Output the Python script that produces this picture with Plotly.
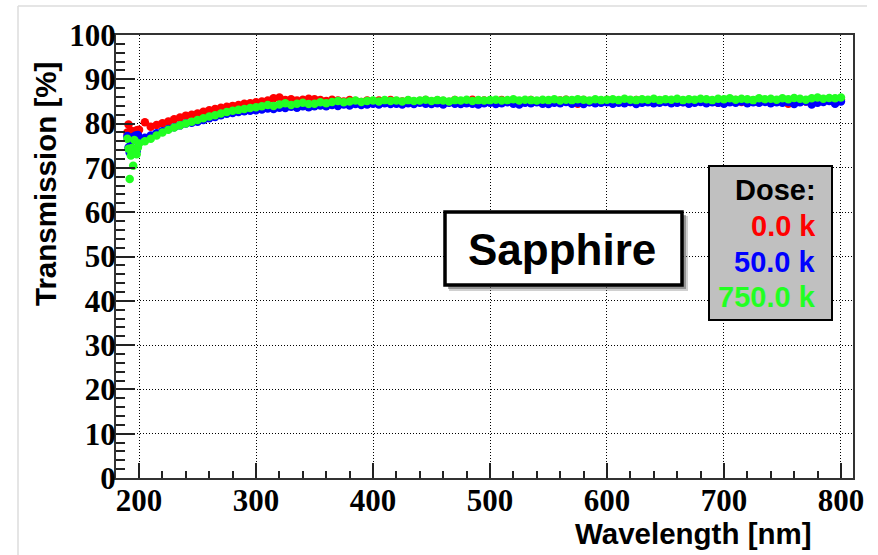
import plotly.graph_objects as go

# ---------------- data ----------------
wl_uv = [190, 191, 192, 193, 194, 195, 196, 197, 198, 199]
red_uv = [78.0, 79.8, 77.8, 78.4, 77.6, 78.2, 77.7, 78.0, 78.5, 78.2]
blue_uv = [77.2, 74.6, 73.5, 75.8, 76.5, 77.0, 76.4, 77.3, 73.8, 77.4]
green_uv = [76.6, 74.3, 67.5, 72.8, 74.5, 70.5, 76.3, 73.8, 73.1, 74.6]

wl_main = list(range(200, 805, 5))
red_main = [
    78.6, 80.3, 79.3, 79.7, 80.1, 80.5, 81.0, 81.4, 81.8, 82.0,
    82.3, 82.7, 83.0, 83.3, 83.6, 83.8, 84.0, 84.2, 84.5, 84.6,
    84.8, 85.0, 85.2, 85.7, 85.9, 85.3, 85.5, 85.2, 85.4, 85.6,
    85.5, 85.3, 85.1, 85.4, 85.2, 85.0, 85.3, 85.1, 84.9, 85.2,
    85.0, 85.2, 84.9, 85.3, 85.1, 85.0, 85.2, 84.6, 85.1, 85.3,
    85.0, 85.2, 85.1, 84.9, 85.3, 85.0, 85.1, 85.4, 85.0, 85.2,
    84.9, 85.1, 85.3, 85.0, 85.2, 84.6, 85.1, 85.3, 85.0, 85.2,
    85.1, 84.9, 85.2, 85.4, 85.0, 84.5, 85.3, 84.9, 85.2, 85.0,
    85.3, 85.1, 85.0, 85.2, 84.9, 85.3, 85.1, 85.0, 85.4, 85.2,
    85.0, 85.1, 85.3, 84.9, 85.2, 85.0, 85.1, 85.3, 85.0, 84.7,
    85.2, 85.1, 85.3, 84.9, 85.0, 85.2, 85.4, 85.1, 84.8, 85.0,
    85.3, 84.5, 85.1, 85.4, 85.0, 85.2, 84.9, 85.3, 85.5, 85.2,
    85.4,
]
blue_main = [
    76.5, 76.8, 77.3, 77.8, 78.3, 78.8, 79.2, 79.6, 80.0, 80.2,
    80.4, 80.8, 81.2, 81.5, 81.9, 82.2, 82.4, 82.6, 82.8, 82.9,
    83.0, 83.2, 83.4, 83.3, 83.6, 83.5, 83.8, 83.6, 83.9, 83.7,
    83.9, 84.1, 83.9, 84.2, 84.0, 84.3, 84.1, 84.4, 84.2, 84.3,
    84.5, 84.3, 84.6, 84.4, 84.5, 84.3, 84.6, 84.4, 84.7, 84.5,
    84.4, 84.6, 84.3, 84.7, 84.5, 84.4, 84.6, 84.5, 84.3, 84.6,
    84.7, 84.4, 84.6, 84.8, 84.5, 84.3, 84.7, 84.6, 84.8, 84.5,
    84.4, 84.7, 84.6, 84.9, 84.5, 84.7, 84.4, 84.8, 84.6, 84.7,
    84.8, 84.5, 84.7, 84.6, 84.9, 84.4, 84.7, 84.8, 84.6, 84.7,
    84.9, 84.6, 84.7, 84.8, 84.5, 84.7, 84.9, 84.6, 84.8, 84.7,
    84.5, 84.8, 84.7, 85.0, 84.6, 84.8, 84.7, 84.9, 84.6, 84.8,
    84.7, 84.9, 84.4, 84.8, 85.0, 84.3, 84.7, 84.9, 85.1, 84.5,
    85.0,
]
green_main = [
    75.5, 76.0, 76.6, 77.3, 78.0, 78.6, 79.1, 79.6, 80.0, 80.4,
    80.8, 81.2, 81.6, 81.9, 82.3, 82.6, 82.9, 83.1, 83.3, 83.5,
    83.7, 83.9, 84.2, 84.0, 84.3, 84.6, 84.2, 84.5, 84.7, 84.4,
    84.5, 84.8, 84.6, 84.9, 85.1, 84.8, 85.0, 85.2, 84.9, 85.1,
    85.2, 85.0, 85.3, 85.1, 85.2, 85.0, 85.3, 85.1, 85.2, 85.4,
    85.1, 85.3, 85.2, 85.0, 85.3, 85.2, 85.4, 85.1, 85.3, 85.2,
    85.3, 85.4, 85.2, 85.3, 85.5, 85.2, 85.4, 85.3, 85.2, 85.4,
    85.3, 85.5, 85.2, 85.4, 85.3, 85.5, 85.4, 85.2, 85.5, 85.3,
    85.4, 85.5, 85.3, 85.6, 85.4, 85.3, 85.5, 85.4, 85.6, 85.3,
    85.5, 85.4, 85.6, 85.3, 85.5, 85.4, 85.6, 85.5, 85.3, 85.6,
    85.5, 85.7, 85.4, 85.6, 85.5, 85.3, 85.7, 85.5, 85.6, 85.4,
    85.7, 85.5, 85.8, 85.6, 85.4, 85.7, 85.9, 85.6, 85.8, 85.7,
    85.9,
]

series_names = ["0.0 k", "50.0 k", "750.0 k"]
series_colors = ["#ff0000", "#0000ff", "#22ff22"]
x_ticks = [200, 300, 400, 500, 600, 700, 800]
y_ticks = [0, 10, 20, 30, 40, 50, 60, 70, 80, 90, 100]

# ---------------- figure ----------------
W, H = 878, 555
L, R, T, B = 116, 25, 35, 77
PW, PH = W - L - R, H - T - B


def px(xp):
    return (xp - L) / PW


def py(yp):
    return (H - B - yp) / PH


fig = go.Figure()
all_series = [
    (wl_uv + wl_main, red_uv + red_main),
    (wl_uv + wl_main, blue_uv + blue_main),
    (wl_uv + wl_main, green_uv + green_main),
]
for (xs, ys), name, col in zip(all_series, series_names, series_colors):
    fig.add_trace(go.Scatter(
        x=xs, y=ys, mode="markers", name=name,
        marker=dict(color=col, size=8.5, line=dict(width=0)),
        showlegend=False, hoverinfo="skip",
    ))

serif = dict(family="Liberation Serif, Times New Roman, serif", size=31, color="black", weight="bold")
sans = "Liberation Sans, Arial, Helvetica, sans-serif"

axis_common = dict(
    showline=True, linecolor="#333333", linewidth=2, mirror=True,
    ticks="inside", tickcolor="#222222", tickwidth=1.5,
    showgrid=True, gridcolor="#000000", gridwidth=1, griddash="1px,2px",
    zeroline=False, tickfont=serif,
)

fig.update_xaxes(
    range=[180.3, 810.3], tickvals=x_ticks, ticklen=15, ticklabelstandoff=-6,
    minor=dict(dtick=20, tick0=0, ticks="inside", ticklen=7, tickcolor="#222222", showgrid=False),
    **axis_common,
)
fig.update_yaxes(
    range=[0, 100], tickvals=y_ticks, ticklen=19, ticklabelstandoff=-8,
    minor=dict(dtick=2, tick0=0, ticks="inside", ticklen=9, tickcolor="#222222", showgrid=False),
    **axis_common,
)

shapes = [
    # page frame
    dict(type="line", xref="paper", yref="paper", x0=px(18), x1=px(867), y0=py(6), y1=py(6),
         line=dict(color="#dddddd", width=1.5), layer="below"),
    dict(type="line", xref="paper", yref="paper", x0=px(18), x1=px(18), y0=py(6), y1=py(560),
         line=dict(color="#dddddd", width=1.5), layer="below"),
    # Sapphire box shadow
    dict(type="rect", xref="paper", yref="paper", x0=px(449), x1=px(688), y0=py(216), y1=py(291),
         fillcolor="rgba(120,120,120,0.35)", line=dict(width=0), layer="above"),
    dict(type="rect", xref="paper", yref="paper", x0=px(448), x1=px(686), y0=py(215), y1=py(289),
         fillcolor="rgba(90,90,90,0.5)", line=dict(width=0), layer="above"),
    # Sapphire box
    dict(type="rect", xref="paper", yref="paper", x0=px(445), x1=px(682), y0=py(212), y1=py(285),
         fillcolor="white", line=dict(color="black", width=3.5), layer="above"),
    # Dose box
    dict(type="rect", xref="paper", yref="paper", x0=px(709), x1=px(832), y0=py(166), y1=py(320),
         fillcolor="#c0c0c0", line=dict(color="black", width=2), layer="above"),
]

annotations = [
    dict(text="Sapphire", x=px(562), y=py(249), xref="paper", yref="paper", showarrow=False,
         xanchor="center", yanchor="middle", font=dict(family=sans, size=44, color="black", weight="bold")),
    dict(text="Dose:", x=px(818), y=py(190), xref="paper", yref="paper", showarrow=False,
         xanchor="right", yanchor="middle", font=dict(family=sans, size=29, color="black", weight="bold")),
    dict(text="Transmission [%]", x=px(45), y=py(184), xref="paper", yref="paper", showarrow=False,
         textangle=-90, xanchor="center", yanchor="middle",
         font=dict(family=sans, size=29.5, color="black", weight="bold")),
    dict(text="Wavelength [nm]", x=px(814), y=py(533), xref="paper", yref="paper", showarrow=False,
         xanchor="right", yanchor="middle", font=dict(family=sans, size=29.5, color="black", weight="bold")),
]
for name, col, yy in zip(series_names, series_colors, [226, 262, 297]):
    annotations.append(dict(text=name, x=px(818), y=py(yy), xref="paper", yref="paper", showarrow=False,
                            xanchor="right", yanchor="middle",
                            font=dict(family=sans, size=29, color=col, weight="bold")))

fig.update_layout(
    width=W, height=H, autosize=False,
    margin=dict(l=L, r=R, t=T, b=B),
    paper_bgcolor="white", plot_bgcolor="white",
    shapes=shapes, annotations=annotations,
)

fig.write_html("out.html")
